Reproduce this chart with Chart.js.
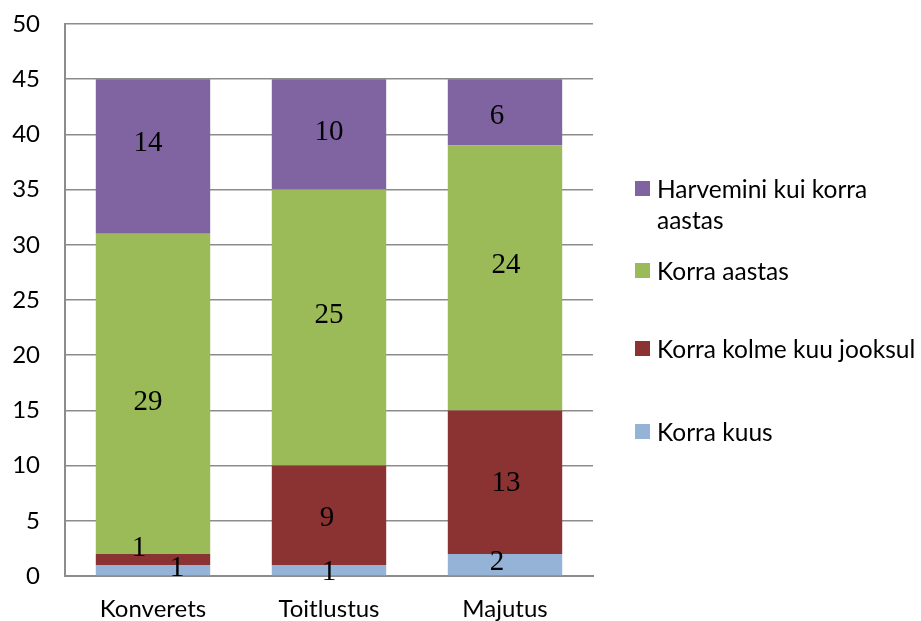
<!DOCTYPE html>
<html>
<head>
<meta charset="utf-8">
<script src="https://cdn.jsdelivr.net/npm/chart.js@4/dist/chart.umd.min.js"></script>
<style>
  html, body { margin: 0; padding: 0; background: #ffffff; }
  #wrap { position: relative; width: 921px; height: 621px; }
  #legend {
    position: absolute; left: 635px; top: 0;
    font-family: "Lato", sans-serif; font-size: 24.5px; color: #000;
  }
  .item { position: absolute; left: 0; width: 290px; line-height: 31px; }
  .item .box {
    position: absolute; left: 0; width: 15px; height: 15px;
  }
  .item .txt { position: absolute; left: 22px; top: 0; white-space: nowrap; }
</style>
</head>
<body>
<div id="wrap">
  <canvas id="usageChart" width="921" height="621"></canvas>
  <div id="legend"></div>
</div>
<script>

// =========================
// DATA
// =========================

const categories = [
  "Konverets",
  "Toitlustus",
  "Majutus"
];

const seriesNames = [
  "Korra kuus",
  "Korra kolme kuu jooksul",
  "Korra aastas",
  "Harvemini kui korra aastas"
];

const monthly = [1, 1, 2];
const quarterly = [1, 9, 13];
const yearly = [29, 25, 24];
const rarer = [14, 10, 6];

const yTicks = [0, 5, 10, 15, 20, 25, 30, 35, 40, 45, 50];


// =========================
// STYLE
// =========================

const seriesColors = [
  "#95b3d7",
  "#8b3333",
  "#9bbb59",
  "#8064a2"
];

const gridColor = "#8c8c8c";

// label nudges [dx, dy] per series / category
const labelNudge = [
  [[24, -2], [0, 2], [-8, -2]],
  [[-14, -11], [-2, 3], [1, 1]],
  [[-5, 9], [0, -12], [1, -13]],
  [[-5, -13], [0, -2], [-8, 4]]
];


// =========================
// VALUE LABELS
// =========================

const valueLabels = {
  id: "valueLabels",
  afterDatasetsDraw(chart) {
    const ctx = chart.ctx;
    ctx.save();
    ctx.font = "29px 'Liberation Serif', serif";
    ctx.fillStyle = "#000";
    ctx.textAlign = "center";
    ctx.textBaseline = "middle";
    chart.data.datasets.forEach((ds, di) => {
      const meta = chart.getDatasetMeta(di);
      meta.data.forEach((bar, i) => {
        const mid = (bar.y + bar.base) / 2;
        const n = labelNudge[di][i];
        ctx.fillText(String(ds.data[i]), bar.x + n[0], mid + n[1]);
      });
    });
    ctx.restore();
  }
};


// =========================
// CHART
// =========================

const seriesValues = [monthly, quarterly, yearly, rarer];

const datasets = seriesNames.map((name, i) => ({
  label: name,
  data: seriesValues[i],
  backgroundColor: seriesColors[i],
  borderWidth: 0,
  barPercentage: 0.65,
  categoryPercentage: 1
}));

const axisFont = { family: "Lato", size: 24 };

new Chart(
  document.getElementById("usageChart"),
  {
    type: "bar",
    data: { labels: categories, datasets },
    options: {
      responsive: false,
      animation: false,
      layout: { padding: { top: 24, right: 328, left: 0, bottom: 0 } },
      plugins: {
        legend: { display: false },
        tooltip: { enabled: false }
      },
      scales: {
        x: {
          stacked: true,
          grid: { display: false },
          border: { display: true, color: gridColor, width: 2 },
          ticks: { color: "#000", font: axisFont, padding: 11 },
          afterFit(scale) { scale.height = 45; }
        },
        y: {
          stacked: true,
          min: 0,
          max: 50,
          afterBuildTicks(scale) {
            scale.ticks = yTicks.map(v => ({ value: v }));
          },
          grid: { color: gridColor, lineWidth: 1.5, drawTicks: false },
          border: { display: true, color: gridColor, width: 2 },
          ticks: { color: "#000", font: axisFont, padding: 25 },
          afterFit(scale) {
            scale.width = 65;
            scale.paddingTop = 0;
            scale.paddingBottom = 0;
          }
        }
      }
    },
    plugins: [valueLabels]
  }
);


// =========================
// LEGEND
// =========================

const legendRows = [
  { series: 3, top: 173, lines: ["Harvemini kui korra", "aastas"] },
  { series: 2, top: 255, lines: ["Korra aastas"] },
  { series: 1, top: 333, lines: ["Korra kolme kuu jooksul"] },
  { series: 0, top: 416, lines: ["Korra kuus"] }
];

const legendEl = document.getElementById("legend");

legendRows.forEach(row => {
  const item = document.createElement("div");
  item.className = "item";
  item.style.top = row.top + "px";
  const box = document.createElement("div");
  box.className = "box";
  box.style.top = "8px";
  box.style.background = seriesColors[row.series];
  const txt = document.createElement("div");
  txt.className = "txt";
  txt.innerHTML = row.lines.join("<br>");
  item.appendChild(box);
  item.appendChild(txt);
  legendEl.appendChild(item);
});

</script>
</body>
</html>
